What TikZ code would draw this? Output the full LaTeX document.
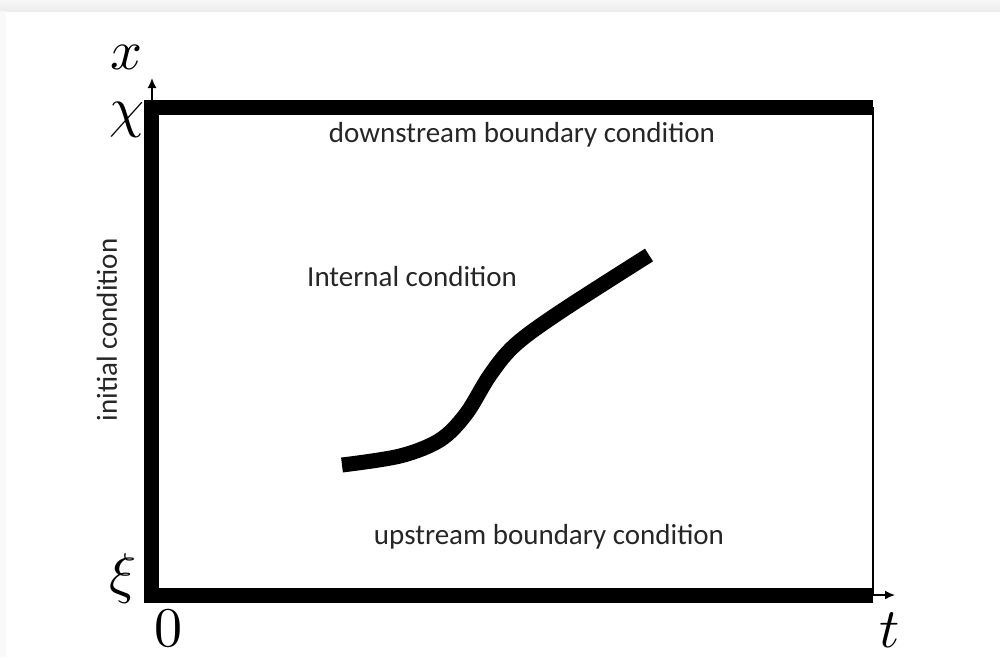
\documentclass[tikz,border=0pt]{standalone}
\usepackage{graphicx}
\usepackage{fontspec}
\newfontfamily\carl{Carlito}
\usetikzlibrary{arrows.meta}
\tikzset{
  thickbar/.style={line width=15pt},
  axisarrow/.style={line width=1.6pt,-{Latex[length=10pt,width=9pt]}},
  lbl/.style={font=\carl\fontsize{29}{31}\selectfont, inner sep=0pt, text=black!85},
  mathlbl/.style={inner sep=0pt},
}
\newcommand{\hugemath}[1]{\scalebox{5.6}{$#1$}}
\begin{document}
\begin{tikzpicture}[x=1pt,y=-1pt]
\useasboundingbox (0,0) rectangle (1000,657);
\fill[white] (0,0) rectangle (1000,657);
\shade[top color=gray!6, bottom color=gray!15] (0,0) rectangle (1000,11);
\fill[gray!5] (0,11) rectangle (6,657);
% frame
\coordinate (tl) at (151,107);
\coordinate (tr) at (873,107);
\coordinate (bl) at (151,595);
\coordinate (br) at (873,595);
\draw[line width=2pt] (tr) -- (br);
\draw[thickbar] (151,100) -- (bl);
\draw[thickbar] (144,107) -- (tr);
\draw[thickbar] (144,595) -- (br);
\coordinate (yarrow) at (152,78);
\coordinate (xarrow) at (895,595);
\draw[axisarrow] (152,100) -- (yarrow);
\draw[axisarrow] (br) -- (xarrow);
% curve
\draw[line width=15pt] plot[smooth, tension=0.55] coordinates {(342,465) (400,456) (440,440) (466,414) (490,375) (515,345) (560,312) (649,255)};
% labels
\node[mathlbl] (lx) at (127,57) {\hugemath{x}};
\node[mathlbl] (lchi) at (127,120) {\hugemath{\chi}};
\node[mathlbl] (lxi) at (123,578) {\hugemath{\xi}};
\node[mathlbl] (l0) at (168,628) {\hugemath{0}};
\node[mathlbl] (lt) at (890,630) {\hugemath{t}};
\node[lbl] (ds) at (522,135) {downstream boundary condition};
\node[lbl,anchor=west] (ic) at (307,277) {Internal condition};
\node[lbl] (us) at (549,537) {upstream boundary condition};
\node[lbl,rotate=90] (init) at (107,330) {initial condition};
\end{tikzpicture}
\end{document}
